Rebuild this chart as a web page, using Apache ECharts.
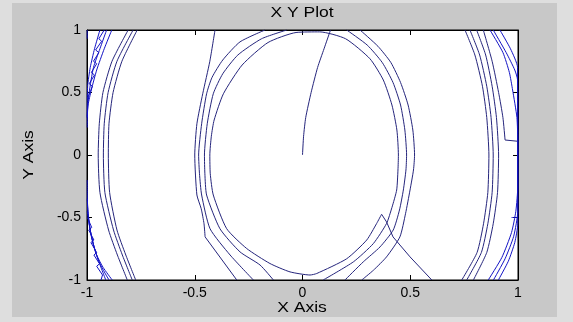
<!DOCTYPE html>
<html>
<head>
<meta charset="utf-8">
<script src="https://cdn.jsdelivr.net/npm/echarts@6/dist/echarts.min.js"></script>
<style>
  html, body { margin: 0; padding: 0; background: #dedede; }
  #chart { width: 573px; height: 322px; }
</style>
</head>
<body>
<div id="chart"></div>
<script>
// Axis ticks
const xTicks = [-1, -0.5, 0, 0.5, 1];
const yTicks = [-1, -0.5, 0, 0.5, 1];

// Trajectory leaving the origin
const originPath = [[0, 0], [0.005, 0.15], [0.015, 0.3], [0.04, 0.5], [0.07, 0.7], [0.1, 0.85], [0.13, 1]];

// Central loops
const loopOuterLeft = [[-0.406, 1], [-0.43, 0.75], [-0.463, 0.49], [-0.49, 0.25], [-0.5, 0], [-0.49, -0.32],
  [-0.47, -0.43], [-0.457, -0.55], [-0.452, -0.655]];
const loopOuterLeftTail = [[-0.452, -0.655], [-0.305, -1]];
const loopSecond = [[-0.174, 1], [-0.29, 0.905], [-0.37, 0.76], [-0.42, 0.62], [-0.445, 0.49], [-0.468, 0.25],
  [-0.482, 0], [-0.478, -0.15], [-0.468, -0.32], [-0.429, -0.59], [-0.336, -0.8], [-0.228, -1]];
const loopThird = [[-0.073, 1], [-0.19, 0.93], [-0.3, 0.8], [-0.37, 0.65], [-0.414, 0.49], [-0.442, 0.25],
  [-0.455, 0], [-0.453, -0.15], [-0.445, -0.32], [-0.383, -0.59], [-0.29, -0.775], [-0.197, -0.88], [-0.135, -1]];
const loopInnerTail = [[0.6, -1], [0.499, -0.815], [0.42, -0.655], [0.39, -0.535], [0.367, -0.474]];
const loopInner = [[0.367, -0.474], [0.344, -0.548], [0.298, -0.68], [0.205, -0.83], [0.066, -0.948],
  [0.035, -0.96], [-0.058, -0.935], [-0.151, -0.868], [-0.259, -0.748], [-0.352, -0.589], [-0.414, -0.32],
  [-0.428, -0.15], [-0.43, 0], [-0.423, 0.15], [-0.41, 0.28], [-0.367, 0.49], [-0.28, 0.72], [-0.16, 0.9],
  [-0.03, 0.98], [0.08, 0.985], [0.2, 0.93], [0.313, 0.77], [0.375, 0.6], [0.415, 0.4], [0.438, 0.2],
  [0.445, 0], [0.443, -0.12], [0.437, -0.28], [0.415, -0.42], [0.39, -0.548], [0.329, -0.708],
  [0.236, -0.855], [0.096, -1]];
const loopRightMid = [[0.205, 1], [0.3, 0.88], [0.37, 0.74], [0.42, 0.58], [0.455, 0.4], [0.475, 0.2],
  [0.483, 0], [0.48, -0.12], [0.468, -0.28], [0.45, -0.44], [0.421, -0.6], [0.36, -0.735], [0.282, -0.855],
  [0.197, -1]];
const loopRightOuter = [[0.267, 1], [0.35, 0.87], [0.41, 0.74], [0.455, 0.58], [0.49, 0.4], [0.512, 0.2],
  [0.52, 0], [0.515, -0.12], [0.499, -0.28], [0.478, -0.47], [0.452, -0.655], [0.39, -0.815],
  [0.329, -0.922], [0.275, -1]];

// Wide arcs, left side
const arcLeftA = [[-0.809, 1], [-0.884, 0.75], [-0.926, 0.5], [-0.943, 0.25], [-0.948, 0], [-0.94, -0.3],
  [-0.9, -0.6], [-0.859, -0.8], [-0.813, -1]];
const arcLeftB = [[-0.786, 1], [-0.861, 0.75], [-0.902, 0.5], [-0.92, 0.25], [-0.924, 0], [-0.917, -0.3],
  [-0.877, -0.6], [-0.836, -0.8], [-0.79, -1]];
const arcLeftC = [[-0.767, 1], [-0.838, 0.75], [-0.879, 0.5], [-0.898, 0.25], [-0.901, 0], [-0.895, -0.3],
  [-0.861, -0.6], [-0.82, -0.8], [-0.774, -1]];

// Wide arcs, right side
const arcRightA = [[0.754, 1], [0.8, 0.8], [0.835, 0.55], [0.855, 0.3], [0.865, 0], [0.86, -0.3],
  [0.84, -0.55], [0.81, -0.78], [0.739, -1]];
const arcRightB = [[0.777, 1], [0.822, 0.8], [0.855, 0.55], [0.875, 0.3], [0.885, 0], [0.88, -0.3],
  [0.86, -0.55], [0.83, -0.78], [0.762, -1]];
const arcRightC = [[0.808, 1], [0.85, 0.8], [0.88, 0.55], [0.9, 0.3], [0.91, 0], [0.905, -0.3],
  [0.885, -0.55], [0.855, -0.78], [0.793, -1]];
const arcRightStep = [[0.839, 1], [0.88, 0.75], [0.91, 0.5], [0.93, 0.3], [0.94, 0.12]];
const arcRightStepTail = [[0.94, 0.12], [0.999, 0.11]];

// Dense passes near x = -1
const edgeLeftTop1 = [[-0.94, 1], [-0.965, 0.85], [-0.985, 0.7], [-0.997, 0.55], [-0.999, 0.3]];
const edgeLeftTop2 = [[-0.909, 1], [-0.94, 0.85], [-0.97, 0.7], [-0.99, 0.5], [-0.998, 0.35], [-0.999, 0.22]];
const edgeLeftTop3 = [[-0.885, 1], [-0.92, 0.85], [-0.955, 0.68], [-0.98, 0.52], [-0.995, 0.4], [-0.999, 0.3]];
const edgeLeftHatchTop = [[-0.998, 0.45], [-0.975, 0.55], [-0.99, 0.57], [-0.965, 0.64], [-0.98, 0.66],
  [-0.955, 0.73], [-0.97, 0.75], [-0.945, 0.82], [-0.96, 0.84], [-0.932, 0.91], [-0.945, 0.93], [-0.92, 1]];
const edgeLeftCorner = [[-0.999, 1], [-0.999, 0.93]];
const edgeLeftBot1 = [[-0.999, -0.2], [-0.998, -0.4], [-0.985, -0.6], [-0.96, -0.78], [-0.913, -1]];
const edgeLeftBot2 = [[-0.999, -0.35], [-0.99, -0.55], [-0.97, -0.72], [-0.94, -0.87], [-0.898, -1]];
const edgeLeftBot3 = [[-0.999, -0.45], [-0.98, -0.65], [-0.955, -0.8], [-0.925, -0.9], [-0.883, -1]];
const edgeLeftHatchBot = [[-0.998, -0.5], [-0.978, -0.58], [-0.992, -0.6], [-0.968, -0.68], [-0.982, -0.7],
  [-0.955, -0.78], [-0.968, -0.8], [-0.942, -0.87], [-0.955, -0.89], [-0.928, -0.96], [-0.935, -1]];

// Dense passes near x = 1
const edgeRight1 = [[0.87, 1], [0.93, 0.82], [0.96, 0.66], [0.975, 0.52], [0.995, 0.3], [0.999, 0.1],
  [0.999, -0.25], [0.99, -0.45], [0.97, -0.62], [0.925, -0.82], [0.862, -1]];
const edgeRight2 = [[0.885, 1], [0.945, 0.82], [0.985, 0.68], [0.998, 0.6], [0.999, 0],
  [0.999, -0.45], [0.98, -0.65], [0.94, -0.83], [0.886, -1]];
const edgeRight3 = [[0.916, 1], [0.965, 0.85], [0.998, 0.7], [0.999, -0.55], [0.985, -0.7],
  [0.955, -0.85], [0.909, -1]];
const edgeRightStep = [[0.97, -0.5], [0.999, -0.5]];

const thinColor = '#25257c';
const denseColor = '#1212c4';

// curved passes are drawn with a light spline, corners stay sharp
const curvedPaths = [originPath, loopOuterLeft, loopSecond, loopThird, loopInner, loopRightMid, loopRightOuter,
  arcLeftA, arcLeftB, arcLeftC, arcRightA, arcRightB, arcRightC, arcRightStep];
const straightPaths = [loopOuterLeftTail, loopInnerTail, arcRightStepTail];
const densePaths = [edgeLeftTop1, edgeLeftTop2, edgeLeftTop3, edgeLeftCorner,
  edgeLeftBot1, edgeLeftBot2, edgeLeftBot3, edgeRight1, edgeRight2, edgeRight3, edgeRightStep];
const hatchPaths = [edgeLeftHatchTop, edgeLeftHatchBot];

function lineSeries(path, color, smooth) {
  return {
    type: 'line',
    data: path,
    showSymbol: false,
    symbol: 'none',
    smooth: smooth,
    clip: true,
    silent: true,
    lineStyle: { color: color, width: 1 },
    xAxisIndex: 0,
    yAxisIndex: 0
  };
}

const font = 'Liberation Sans, Arial, sans-serif';

function valueAxis(position, showLabels, ticks) {
  return {
    type: 'value',
    position: position,
    min: ticks[0],
    max: ticks[ticks.length - 1],
    interval: 0.5,
    axisLine: { show: true, onZero: false, lineStyle: { color: '#000', width: 1 } },
    axisTick: { show: true, inside: true, length: 5, lineStyle: { color: '#000' } },
    splitLine: { show: false },
    axisLabel: {
      show: showLabels,
      color: '#000',
      fontFamily: font,
      fontSize: 14,
      margin: 6,
      formatter: v => String(v)
    }
  };
}

const chart = echarts.init(document.getElementById('chart'), null, { renderer: 'canvas' });
chart.setOption({
  animation: false,
  backgroundColor: '#dedede',
  grid: {
    left: 87, top: 30, width: 431, height: 250,
    show: true, backgroundColor: '#ffffff', borderColor: '#000', borderWidth: 1
  },
  graphic: [
    { type: 'rect', z: -10, silent: true, shape: { x: 12, y: 3, width: 545, height: 314 },
      style: { fill: '#c8c8c8' } },
    { type: 'text', x: 302, y: 13, scaleX: 1.25, silent: true,
      style: { text: 'X Y Plot', fill: '#000', font: '14px ' + font, textAlign: 'center', textVerticalAlign: 'middle' } },
    { type: 'text', x: 302, y: 308, scaleX: 1.25, silent: true,
      style: { text: 'X Axis', fill: '#000', font: '14px ' + font, textAlign: 'center', textVerticalAlign: 'middle' } },
    { type: 'text', x: 29, y: 155, rotation: Math.PI / 2, scaleX: 1.25, silent: true,
      style: { text: 'Y Axis', fill: '#000', font: '14px ' + font, textAlign: 'center', textVerticalAlign: 'middle' } }
  ],
  xAxis: [valueAxis('bottom', true, xTicks), valueAxis('top', false, xTicks)],
  yAxis: [valueAxis('left', true, yTicks), valueAxis('right', false, yTicks)],
  series: curvedPaths.map(p => lineSeries(p, thinColor, 0.2))
    .concat(straightPaths.map(p => lineSeries(p, thinColor, false)))
    .concat(densePaths.map(p => lineSeries(p, denseColor, 0.2)))
    .concat(hatchPaths.map(p => lineSeries(p, denseColor, false)))
});
</script>
</body>
</html>
